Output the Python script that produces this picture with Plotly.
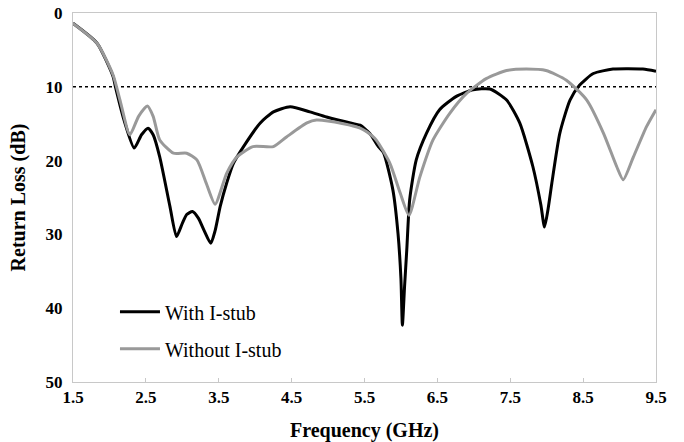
import plotly.graph_objects as go

# With I-stub (black)
freq_with = [1.5, 1.83, 2.05, 2.08, 2.2, 2.34, 2.44, 2.53, 2.6, 2.69, 2.83, 2.92, 3.0, 3.06, 3.14, 3.22, 3.3, 3.39, 3.45,
             3.52, 3.61, 3.70, 3.84, 4.07, 4.25, 4.48, 4.75, 4.98, 5.35, 5.44, 5.57, 5.69, 5.76, 5.89, 5.96, 6.0,
             6.02, 6.05, 6.08, 6.12, 6.21, 6.35, 6.53, 6.76, 6.99, 7.22, 7.45, 7.63, 7.81, 7.92, 7.97, 8.02,
             8.07, 8.18, 8.32, 8.45, 8.64, 8.91, 9.32, 9.5]
rl_with = [1.4, 4.1, 8.6, 9.9, 14.5, 18.3, 16.5, 15.6, 16.5, 19.5, 26.2, 30.3, 28.5, 27.3, 26.9, 27.8, 29.5, 31.2, 29.5,
           26.2, 23.0, 20.4, 18.1, 14.9, 13.4, 12.7, 13.4, 14.1, 15.0, 15.2, 16.3, 18.1, 18.9, 24.0, 29.9, 36.0,
           42.3, 37.0, 32.1, 25.3, 19.9, 16.3, 13.1, 11.3, 10.4, 10.3, 11.8, 14.9, 20.8, 26.0, 29.0, 26.5,
           23.1, 16.3, 11.8, 9.8, 8.2, 7.6, 7.6, 7.9]

# Without I-stub (gray)
freq_without = [1.5, 1.83, 2.05, 2.15, 2.28, 2.4, 2.52, 2.6, 2.69, 2.88, 3.06, 3.20, 3.33, 3.45, 3.61, 3.75, 3.97,
                4.25, 4.43, 4.71, 4.84, 5.21, 5.44, 5.53, 5.66, 5.85, 5.99, 6.11, 6.26, 6.44, 6.67, 6.90, 7.17,
                7.45, 7.72, 7.99, 8.27, 8.55, 8.78, 8.96, 9.05, 9.19, 9.37, 9.5]
rl_without = [1.4, 4.1, 8.4, 12.0, 16.5, 14.0, 12.6, 14.0, 17.2, 19.0, 19.0, 19.9, 23.1, 25.9, 21.7, 19.5, 18.1,
              18.1, 16.8, 14.9, 14.5, 15.0, 15.6, 16.1, 17.2, 20.4, 24.4, 27.4, 22.2, 17.2, 13.6, 10.9, 8.9,
              7.8, 7.6, 7.8, 9.1, 11.8, 16.3, 20.8, 22.6, 19.5, 15.4, 13.1]

ref_freq = [1.5, 9.5]
ref_rl = [10, 10]

x_ticks = [1.5, 2.5, 3.5, 4.5, 5.5, 6.5, 7.5, 8.5, 9.5]
y_ticks = [0, 10, 20, 30, 40, 50]

fig = go.Figure()
fig.add_trace(go.Scatter(x=ref_freq, y=ref_rl, mode="lines", showlegend=False,
                         line=dict(color="black", width=1.5, dash="dot"), hoverinfo="skip"))
fig.add_trace(go.Scatter(x=freq_with, y=rl_with, mode="lines", name="With I-stub", legendgroup="a",
                         line=dict(color="black", width=3, shape="spline", smoothing=0.6)))
fig.add_trace(go.Scatter(x=freq_without, y=rl_without, mode="lines", name="Without I-stub", legendgroup="b",
                         line=dict(color="#999999", width=3, shape="spline", smoothing=0.6)))

serif = "Liberation Serif, Times New Roman, serif"
fig.update_layout(
    width=684, height=442,
    margin=dict(l=73, r=28, t=13, b=60),
    paper_bgcolor="white", plot_bgcolor="white",
    font=dict(family=serif, color="black"),
    legend=dict(x=0.072, y=0.14, xanchor="left", yanchor="middle", bgcolor="rgba(0,0,0,0)",
                font=dict(family=serif, size=20, color="black", weight="normal"), tracegroupgap=8,
                itemwidth=40),
    xaxis=dict(range=[1.5, 9.5], tickvals=x_ticks, ticktext=[f"{v}" for v in x_ticks],
               showgrid=False, zeroline=False, showline=True, linecolor="#c8c8c8", linewidth=1,
               mirror=True, ticks="inside", ticklen=4, tickcolor="#c8c8c8", automargin=False,
               tickfont=dict(family=serif, size=17, color="black", weight="bold"),
               title=dict(text="<b>Frequency (GHz)</b>", font=dict(family=serif, size=20, color="black"),
                          standoff=16)),
    yaxis=dict(range=[50, 0], tickvals=y_ticks, showgrid=False, zeroline=False, showline=True,
               linecolor="#c8c8c8", linewidth=1, mirror=True, ticks="", ticklabelstandoff=6,
               automargin=False,
               tickfont=dict(family=serif, size=17, color="black", weight="bold"),
               title=dict(text="<b>Return Loss (dB)</b>", font=dict(family=serif, size=20, color="black"),
                          standoff=14)),
)

fig.write_html("out.html")
